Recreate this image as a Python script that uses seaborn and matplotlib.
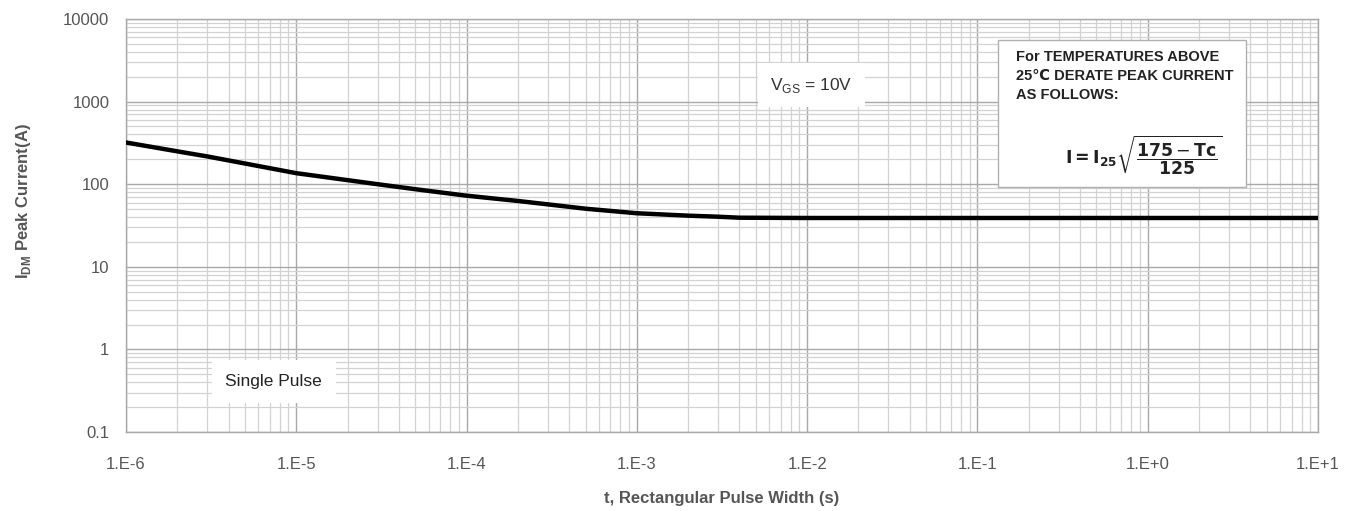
import numpy as np
import pandas as pd
import matplotlib
matplotlib.use("Agg")
import matplotlib.pyplot as plt
from matplotlib.patches import Rectangle
from matplotlib.ticker import LogLocator, FixedLocator, FixedFormatter, NullFormatter
import seaborn as sns

# values
pulse_width = [1e-6, 2e-6, 3e-6, 5e-6, 1e-5, 2e-5, 3e-5, 5e-5, 1e-4, 2e-4, 3e-4, 5e-4,
               1e-3, 2e-3, 3e-3, 4e-3, 1e-2, 1e-1, 1e0, 1e1]
peak_current = [320, 250, 217, 178, 136, 112, 100, 87, 72.6, 62.7, 57, 50.5,
                44.5, 41.6, 40.4, 39.3, 39, 39, 39, 39]

x_ticks = [1e-6, 1e-5, 1e-4, 1e-3, 1e-2, 1e-1, 1e0, 1e1]
x_tick_labels = ["1.E-6", "1.E-5", "1.E-4", "1.E-3", "1.E-2", "1.E-1", "1.E+0", "1.E+1"]
y_ticks = [0.1, 1, 10, 100, 1000, 10000]
y_tick_labels = ["0.1", "1", "10", "100", "1000", "10000"]

df = pd.DataFrame({"t": pulse_width, "I": peak_current})

sns.set_style("white")
plt.rcParams["font.family"] = ["Liberation Sans", "DejaVu Sans"]

fig = plt.figure(figsize=(13.62, 5.11), dpi=100)
ax = fig.add_axes([0.0925, 0.1546, 0.8752, 0.8082])

sns.lineplot(data=df, x="t", y="I", ax=ax, color="black", linewidth=3.2, zorder=5)

ax.set_xscale("log")
ax.set_yscale("log")
ax.set_xlim(1e-6, 1e1)
ax.set_ylim(0.1, 10000)

ax.xaxis.set_major_locator(FixedLocator(x_ticks))
ax.xaxis.set_major_formatter(FixedFormatter(x_tick_labels))
ax.yaxis.set_major_locator(FixedLocator(y_ticks))
ax.yaxis.set_major_formatter(FixedFormatter(y_tick_labels))
ax.xaxis.set_minor_locator(LogLocator(base=10, subs=np.arange(2, 10), numticks=20))
ax.yaxis.set_minor_locator(LogLocator(base=10, subs=np.arange(2, 10), numticks=20))
ax.xaxis.set_minor_formatter(NullFormatter())
ax.yaxis.set_minor_formatter(NullFormatter())

ax.grid(which="major", color="#a8a8a8", linewidth=1.0)
ax.grid(which="minor", color="#d2d2d2", linewidth=0.9)
for s in ax.spines.values():
    s.set_color("#a8a8a8")
    s.set_linewidth(1.0)
ax.tick_params(which="both", length=0)
ax.tick_params(axis="x", labelsize=12, colors="#555555", pad=18)
ax.tick_params(axis="y", labelsize=12, colors="#555555", pad=12)

ax.set_xlabel("t, Rectangular Pulse Width (s)", fontsize=12, fontweight="bold",
              color="#555555", labelpad=14)
ax.set_ylabel("I$_{\\mathregular{DM}}$ Peak Current(A)", fontsize=12, fontweight="bold",
              color="#555555", labelpad=16)
ax.yaxis.set_label_coords(-0.078, 0.56)

ax.text(0.575, 0.84, "V$_{\\mathregular{GS}}$ = 10V", transform=ax.transAxes, fontsize=12.5,
        color="#333333", ha="center", va="center", zorder=6,
        bbox=dict(facecolor="white", edgecolor="none", pad=9))
ax.text(0.124, 0.123, "Single Pulse", transform=ax.transAxes, fontsize=12.5,
        color="#222222", ha="center", va="center", zorder=6,
        bbox=dict(facecolor="white", edgecolor="none", pad=10))

# derating note box
ax.add_patch(Rectangle((0.7315, 0.593), 0.208, 0.356, transform=ax.transAxes,
                       facecolor="white", edgecolor="#b0b0b0", linewidth=1.0, zorder=6))
box_text = "For TEMPERATURES ABOVE\n25\u2103 DERATE PEAK CURRENT\nAS FOLLOWS:"
ax.text(0.7465, 0.925, box_text, transform=ax.transAxes, fontsize=10.5, fontweight="bold",
        color="#222222", ha="left", va="top", linespacing=1.45, zorder=7)
ax.text(0.788, 0.671, r"$\mathbf{I = I_{25}}\sqrt{\dfrac{\mathbf{175}-\mathit{\mathbf{Tc}}}{\mathbf{125}}}$",
        transform=ax.transAxes, fontsize=12.5, color="#222222", ha="left", va="center", zorder=7)

fig.savefig("out.png", dpi=100)
